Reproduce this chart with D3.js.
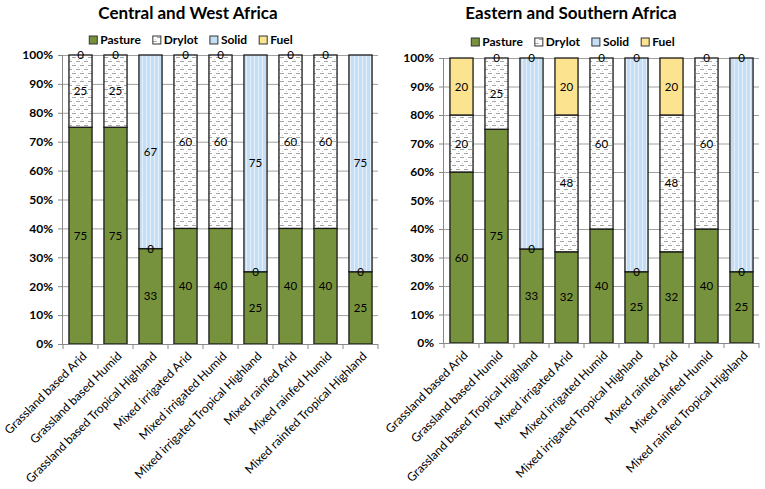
<!DOCTYPE html>
<html><head><meta charset="utf-8">
<script src="https://cdn.jsdelivr.net/npm/d3@7"></script>
<style>
body{margin:0;background:#fff}
text{font-family:Lato,"Open Sans",sans-serif}
</style>
</head><body>
<svg id="c" width="765" height="489"></svg>
<script>
const categories = ["Grassland based Arid","Grassland based Humid","Grassland based Tropical Highland","Mixed irrigated Arid","Mixed irrigated Humid","Mixed irrigated Tropical Highland","Mixed rainfed Arid","Mixed rainfed Humid","Mixed rainfed Tropical Highland"];
const seriesNames = ["Pasture","Drylot","Solid","Fuel"];
const tickValues = [0,10,20,30,40,50,60,70,80,90,100];
const tickLabels = ["0%","10%","20%","30%","40%","50%","60%","70%","80%","90%","100%"];

// Central and West Africa
const cwPasture = [75,75,33,40,40,25,40,40,25];
const cwDrylot  = [25,25,0,60,60,0,60,60,0];
const cwSolid   = [0,0,67,0,0,75,0,0,75];
const cwFuel    = [null,null,null,null,null,null,null,null,null];
const cwLabelled = ["Pasture","Drylot","Solid"];

// Eastern and Southern Africa
const esPasture = [60,75,33,32,40,25,32,40,25];
const esDrylot  = [20,25,0,48,60,0,48,60,0];
const esSolid   = [0,0,67,0,0,75,0,0,75];
const esFuel    = [20,0,0,20,0,0,20,0,0];
const esLabelled = ["Pasture","Drylot","Fuel"];

const svg = d3.select("#c");
const defs = svg.append("defs");

// Drylot pattern: rows of short grey dashes, alternating offset
const pd = defs.append("pattern").attr("id","drylot").attr("patternUnits","userSpaceOnUse")
  .attr("width",8).attr("height",8);
pd.append("rect").attr("width",8).attr("height",8).attr("fill","#fff");
pd.append("rect").attr("x",0).attr("y",1).attr("width",4).attr("height",1).attr("fill","#a6a6a6");
pd.append("rect").attr("x",4).attr("y",5).attr("width",4).attr("height",1).attr("fill","#a6a6a6");
pd.append("rect").attr("x",6).attr("y",3).attr("width",1).attr("height",1).attr("fill","#d0d0d0");
pd.append("rect").attr("x",2).attr("y",7).attr("width",1).attr("height",1).attr("fill","#d0d0d0");

// Solid pattern: light blue with vertical lighter stripes
const ps = defs.append("pattern").attr("id","solid").attr("patternUnits","userSpaceOnUse")
  .attr("width",4).attr("height",4);
ps.append("rect").attr("width",4).attr("height",4).attr("fill","#c4def6");
ps.append("rect").attr("x",2).attr("width",1).attr("height",4).attr("fill","#e4f1fc");

const fills = {Pasture:"#76923c", Drylot:"url(#drylot)", Solid:"url(#solid)", Fuel:"#fbe38f"};
const legendFills = {Pasture:"#76923c", Drylot:"url(#drylot)", Solid:"#c4def6", Fuel:"#fbe38f"};

function drawChart(cfg){
  const {title, titleX, data, labelled, x0, x1, yTop, yBot, legendCx} = cfg;
  const g = svg.append("g");
  const x = d3.scaleBand().domain(categories).range([x0,x1]).paddingInner(0.34).paddingOuter(0.17);
  const xb = d3.scaleBand().domain(categories).range([x0,x1]);
  const y = d3.scaleLinear().domain([0,100]).range([yBot,yTop]);

  // title
  g.append("text").attr("x",titleX).attr("y",19).attr("text-anchor","middle")
    .attr("font-size",17).attr("font-weight","bold").attr("fill","#000").text(title);

  // gridlines
  g.append("g").selectAll("line").data(tickValues.slice(1)).join("line")
    .attr("x1",x0).attr("x2",x1).attr("y1",d=>y(d)+0.5).attr("y2",d=>y(d)+0.5)
    .attr("stroke","#a0a0a0").attr("stroke-width",1);

  // stack
  const rows = categories.map((c,i)=>{
    const r = {cat:c};
    seriesNames.forEach(s=>{ r[s] = data[s][i]==null?0:data[s][i]; });
    return r;
  });
  const stacked = d3.stack().keys(seriesNames)(rows);
  stacked.forEach(layer=>{
    const s = layer.key;
    g.append("g").selectAll("rect").data(layer).join("rect")
      .attr("x",d=>x(d.data.cat)).attr("width",x.bandwidth())
      .attr("y",d=>y(d[1])).attr("height",d=>y(d[0])-y(d[1]))
      .attr("fill",fills[s])
      .attr("stroke",d=>(d[1]-d[0])>0?"#1a1a1a":"none").attr("stroke-width",1.3);
  });
  // labels
  stacked.forEach(layer=>{
    const s = layer.key;
    if(!labelled.includes(s)) return;
    g.append("g").selectAll("text").data(layer.map((d,i)=>({d,i})).filter(o=>data[s][o.i]!=null)).join("text")
      .attr("x",o=>x(o.d.data.cat)+x.bandwidth()/2)
      .attr("y",o=>y((o.d[0]+o.d[1])/2))
      .attr("dy","0.35em").attr("text-anchor","middle").attr("font-size",11.5).attr("fill","#000")
      .text(o=>data[s][o.i]);
  });

  // y axis
  const ya = d3.axisLeft(y).tickValues(tickValues).tickFormat((d,i)=>tickLabels[i]).tickSize(5).tickPadding(5);
  const yg = g.append("g").attr("transform",`translate(${x0},0)`).call(ya);
  yg.select(".domain").attr("stroke","#888").attr("d",`M-0.5,${yTop}V${yBot}`);
  yg.selectAll(".tick line").attr("stroke","#888");
  yg.selectAll(".tick text").attr("font-size",12).attr("font-weight","bold").attr("fill","#000")
    .style("font-family","Lato, 'Open Sans', sans-serif");

  // x axis
  g.append("line").attr("x1",x0).attr("x2",x1).attr("y1",yBot+0.5).attr("y2",yBot+0.5).attr("stroke","#888");
  g.append("g").selectAll("line").data(categories.concat([null])).join("line")
    .attr("x1",(d,i)=>x0+i*xb.step()).attr("x2",(d,i)=>x0+i*xb.step())
    .attr("y1",yBot).attr("y2",yBot+5).attr("stroke","#888");
  g.append("g").selectAll("text").data(categories).join("text")
    .attr("transform",d=>`translate(${x(d)+x.bandwidth()/2+4},${yBot+10}) rotate(-45)`)
    .attr("text-anchor","end").attr("dy","0.35em").attr("font-size",12).attr("fill","#000").text(d=>d);

  // legend
  const lg = g.append("g");
  let cx = 0;
  seriesNames.forEach(s=>{
    const it = lg.append("g");
    it.append("rect").attr("x",0).attr("y",-4).attr("width",8).attr("height",8)
      .attr("fill",legendFills[s]).attr("stroke","#333").attr("stroke-width",1);
    const t = it.append("text").attr("x",11).attr("y",0).attr("dy","0.35em")
      .attr("font-size",12).attr("font-weight","bold").attr("fill","#000").text(s);
    const w = 11 + t.node().getComputedTextLength();
    it.attr("transform",`translate(${cx},0)`);
    cx += w + 12;
  });
  const total = cx - 12;
  lg.attr("transform",`translate(${legendCx - total/2},${cfg.legendY})`);
}

drawChart({title:"Central and West Africa", titleX:188,
  data:{Pasture:cwPasture, Drylot:cwDrylot, Solid:cwSolid, Fuel:cwFuel},
  labelled:cwLabelled, x0:63, x1:378, yTop:55, yBot:344, legendCx:191, legendY:40});
drawChart({title:"Eastern and Southern Africa", titleX:571,
  data:{Pasture:esPasture, Drylot:esDrylot, Solid:esSolid, Fuel:esFuel},
  labelled:esLabelled, x0:444, x1:759, yTop:58, yBot:343, legendCx:573, legendY:42});
</script>
</body></html>
